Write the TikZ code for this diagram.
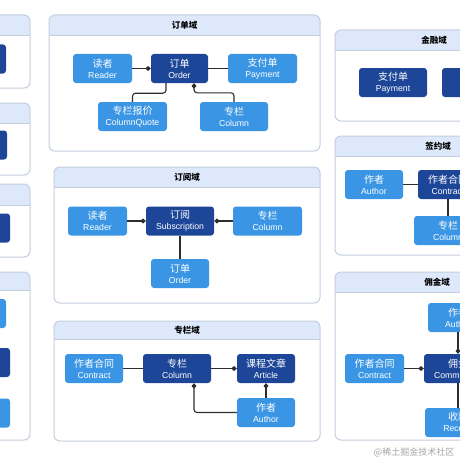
\documentclass[tikz,border=0pt]{standalone}
\usepackage{fontspec}
\setmainfont{Liberation Sans}
\newfontfamily\cjk{Noto Sans CJK SC}
\usetikzlibrary{arrows.meta}
\definecolor{lightb}{RGB}{58,150,228}
\definecolor{darkb}{RGB}{30,70,152}
\definecolor{hdr}{RGB}{221,232,250}
\definecolor{pbord}{RGB}{196,206,222}
\definecolor{lnc}{RGB}{45,45,45}
\definecolor{wm}{RGB}{165,165,165}
\tikzset{
 ent/.style={rounded corners=3pt, text=white, inner sep=0pt, minimum height=29pt, align=center, font=\fontsize{8.7}{11}\selectfont},
 lt/.style={ent, fill=lightb},
 dk/.style={ent, fill=darkb},
 conn/.style={draw=lnc, line width=1.1pt},
 dtip/.style={conn, -{Diamond[length=5.5pt,width=5pt]}},
 ptitle/.style={font=\cjk\bfseries\fontsize{8.5}{10}\selectfont, text=black},
}
\newcommand\cn[1]{{\cjk\fontsize{10}{11}\selectfont #1}}
\newcommand\dompanel[5]{%
 \begin{scope}
  \clip[rounded corners=6pt] (#1,#2) rectangle (#3,#4);
  \fill[white] (#1,#2) rectangle (#3,#4);
  \fill[hdr] (#1,#2) rectangle (#3,#5);
  \draw[pbord, line width=0.8pt] (#1,#5) -- (#3,#5);
 \end{scope}
 \draw[pbord, line width=1pt, rounded corners=6pt] (#1,#2) rectangle (#3,#4);
}
\begin{document}
\begin{tikzpicture}[x=1pt,y=-1pt]
\useasboundingbox (0,0) rectangle (460,460);
\clip (0,0) rectangle (460,460);
\fill[white] (0,0) rectangle (460,460);

% left column (cut off)
\dompanel{-200}{15}{30}{88}{35}
\dompanel{-200}{103}{30}{175}{123}
\dompanel{-200}{184}{30}{257}{205}
\dompanel{-200}{272}{30}{440}{290}
\node[dk, minimum width=68pt] (l1) at (-28,59) {};
\node[dk, minimum width=68pt] (l2) at (-27,145) {};
\node[dk, minimum width=68pt] (l3) at (-24,228) {};
\node[lt, minimum width=68pt] (l4a) at (-28,313.5) {};
\node[dk, minimum width=68pt] (l4b) at (-24,362.5) {};
\node[lt, minimum width=68pt] (l4c) at (-24,413) {};

% 订单域
\dompanel{49}{15}{320}{151}{35}
\node[ptitle] (t1) at (184.5,25) {订单域};
\node[lt, minimum width=59pt] (r1) at (102.5,68.5) {\cn{读者}\\Reader};
\node[dk, minimum width=57pt] (o1) at (179.5,68.5) {\cn{订单}\\Order};
\node[lt, minimum width=69pt] (p1) at (262.5,68.5) {\cn{支付单}\\Payment};
\node[lt, minimum width=69pt] (cq) at (132.5,116.5) {\cn{专栏报价}\\ColumnQuote};
\node[lt, minimum width=68pt] (c1) at (234,116.5) {\cn{专栏}\\Column};
\draw[dtip] (r1) -- (o1);
\draw[conn] (o1) -- (p1);
\draw[conn, rounded corners=3pt] ([xshift=-13.5pt]o1.south) -- ++(0,10) -| (cq.north);
\draw[dtip, rounded corners=3pt] (c1.north) -- ++(0,-9) -| ([xshift=14.5pt]o1.south);

% 订阅域
\dompanel{54}{167}{320}{303}{187}
\node[ptitle] (t2) at (187,177) {订阅域};
\node[lt, minimum width=59pt] (r2) at (97.5,221) {\cn{读者}\\Reader};
\node[dk, minimum width=68pt] (s2) at (180,221) {\cn{订阅}\\Subscription};
\node[lt, minimum width=69pt] (c2) at (267.5,221) {\cn{专栏}\\Column};
\node[lt, minimum width=58pt] (o2) at (180,273.5) {\cn{订单}\\Order};
\draw[dtip] (r2) -- (s2);
\draw[dtip] (c2) -- (s2);
\draw[conn] (s2) -- (o2);

% 专栏域
\dompanel{54}{321}{320}{441}{339}
\node[ptitle] (t3) at (187,330) {专栏域};
\node[lt, minimum width=58pt] (k3) at (94,368.5) {\cn{作者合同}\\Contract};
\node[dk, minimum width=68pt] (c3) at (177,368.5) {\cn{专栏}\\Column};
\node[dk, minimum width=58pt] (a3) at (266,368.5) {\cn{课程文章}\\Article};
\node[lt, minimum width=58pt] (au3) at (266,412.5) {\cn{作者}\\Author};
\draw[conn] (k3) -- (c3);
\draw[dtip] (c3) -- (a3);
\draw[dtip] (au3) -- (a3);
\draw[dtip, rounded corners=3pt] (au3.west) -| ([xshift=17pt]c3.south);

% 金融域
\dompanel{335}{30}{540}{121}{50}
\node[ptitle] (t4) at (434,40) {金融域};
\node[dk, minimum width=68pt] (p4) at (393,82.5) {\cn{支付单}\\Payment};
\node[dk, minimum width=68pt] (x4) at (476,82.5) {};

% 签约域
\dompanel{335}{136}{540}{255}{156}
\node[ptitle] (t5) at (438,146) {签约域};
\node[lt, minimum width=58pt] (a5) at (374,184.5) {\cn{作者}\\Author};
\node[dk, minimum width=60pt] (k5) at (448,184.5) {\cn{作者合同}\\Contract};
\node[lt, minimum width=68pt] (c5) at (448,230.5) {\cn{专栏}\\Column};
\draw[conn] (a5) -- (k5);
\draw[conn] (k5) -- (c5);

% 佣金域
\dompanel{335}{272}{540}{440}{292}
\node[ptitle] (t6) at (437,282) {佣金域};
\node[lt, minimum width=60pt] (a6) at (458,317.5) {\cn{作者}\\Author};
\node[lt, minimum width=59pt] (k6) at (374.5,368.5) {\cn{作者合同}\\Contract};
\node[dk, minimum width=68pt] (m6) at (458,368.5) {\cn{佣金}\\Commission};
\node[lt, minimum width=66pt] (r6) at (458,422.5) {\cn{收款}\\Receipt};
\draw[dtip] (k6) -- (m6);
\draw[dtip] (a6) -- (m6);
\draw[conn] (m6) -- (r6);

\node[font=\cjk\fontsize{9}{10}\selectfont, text=wm] (wmk) at (414,452) {@稀土掘金技术社区};
\end{tikzpicture}
\end{document}
